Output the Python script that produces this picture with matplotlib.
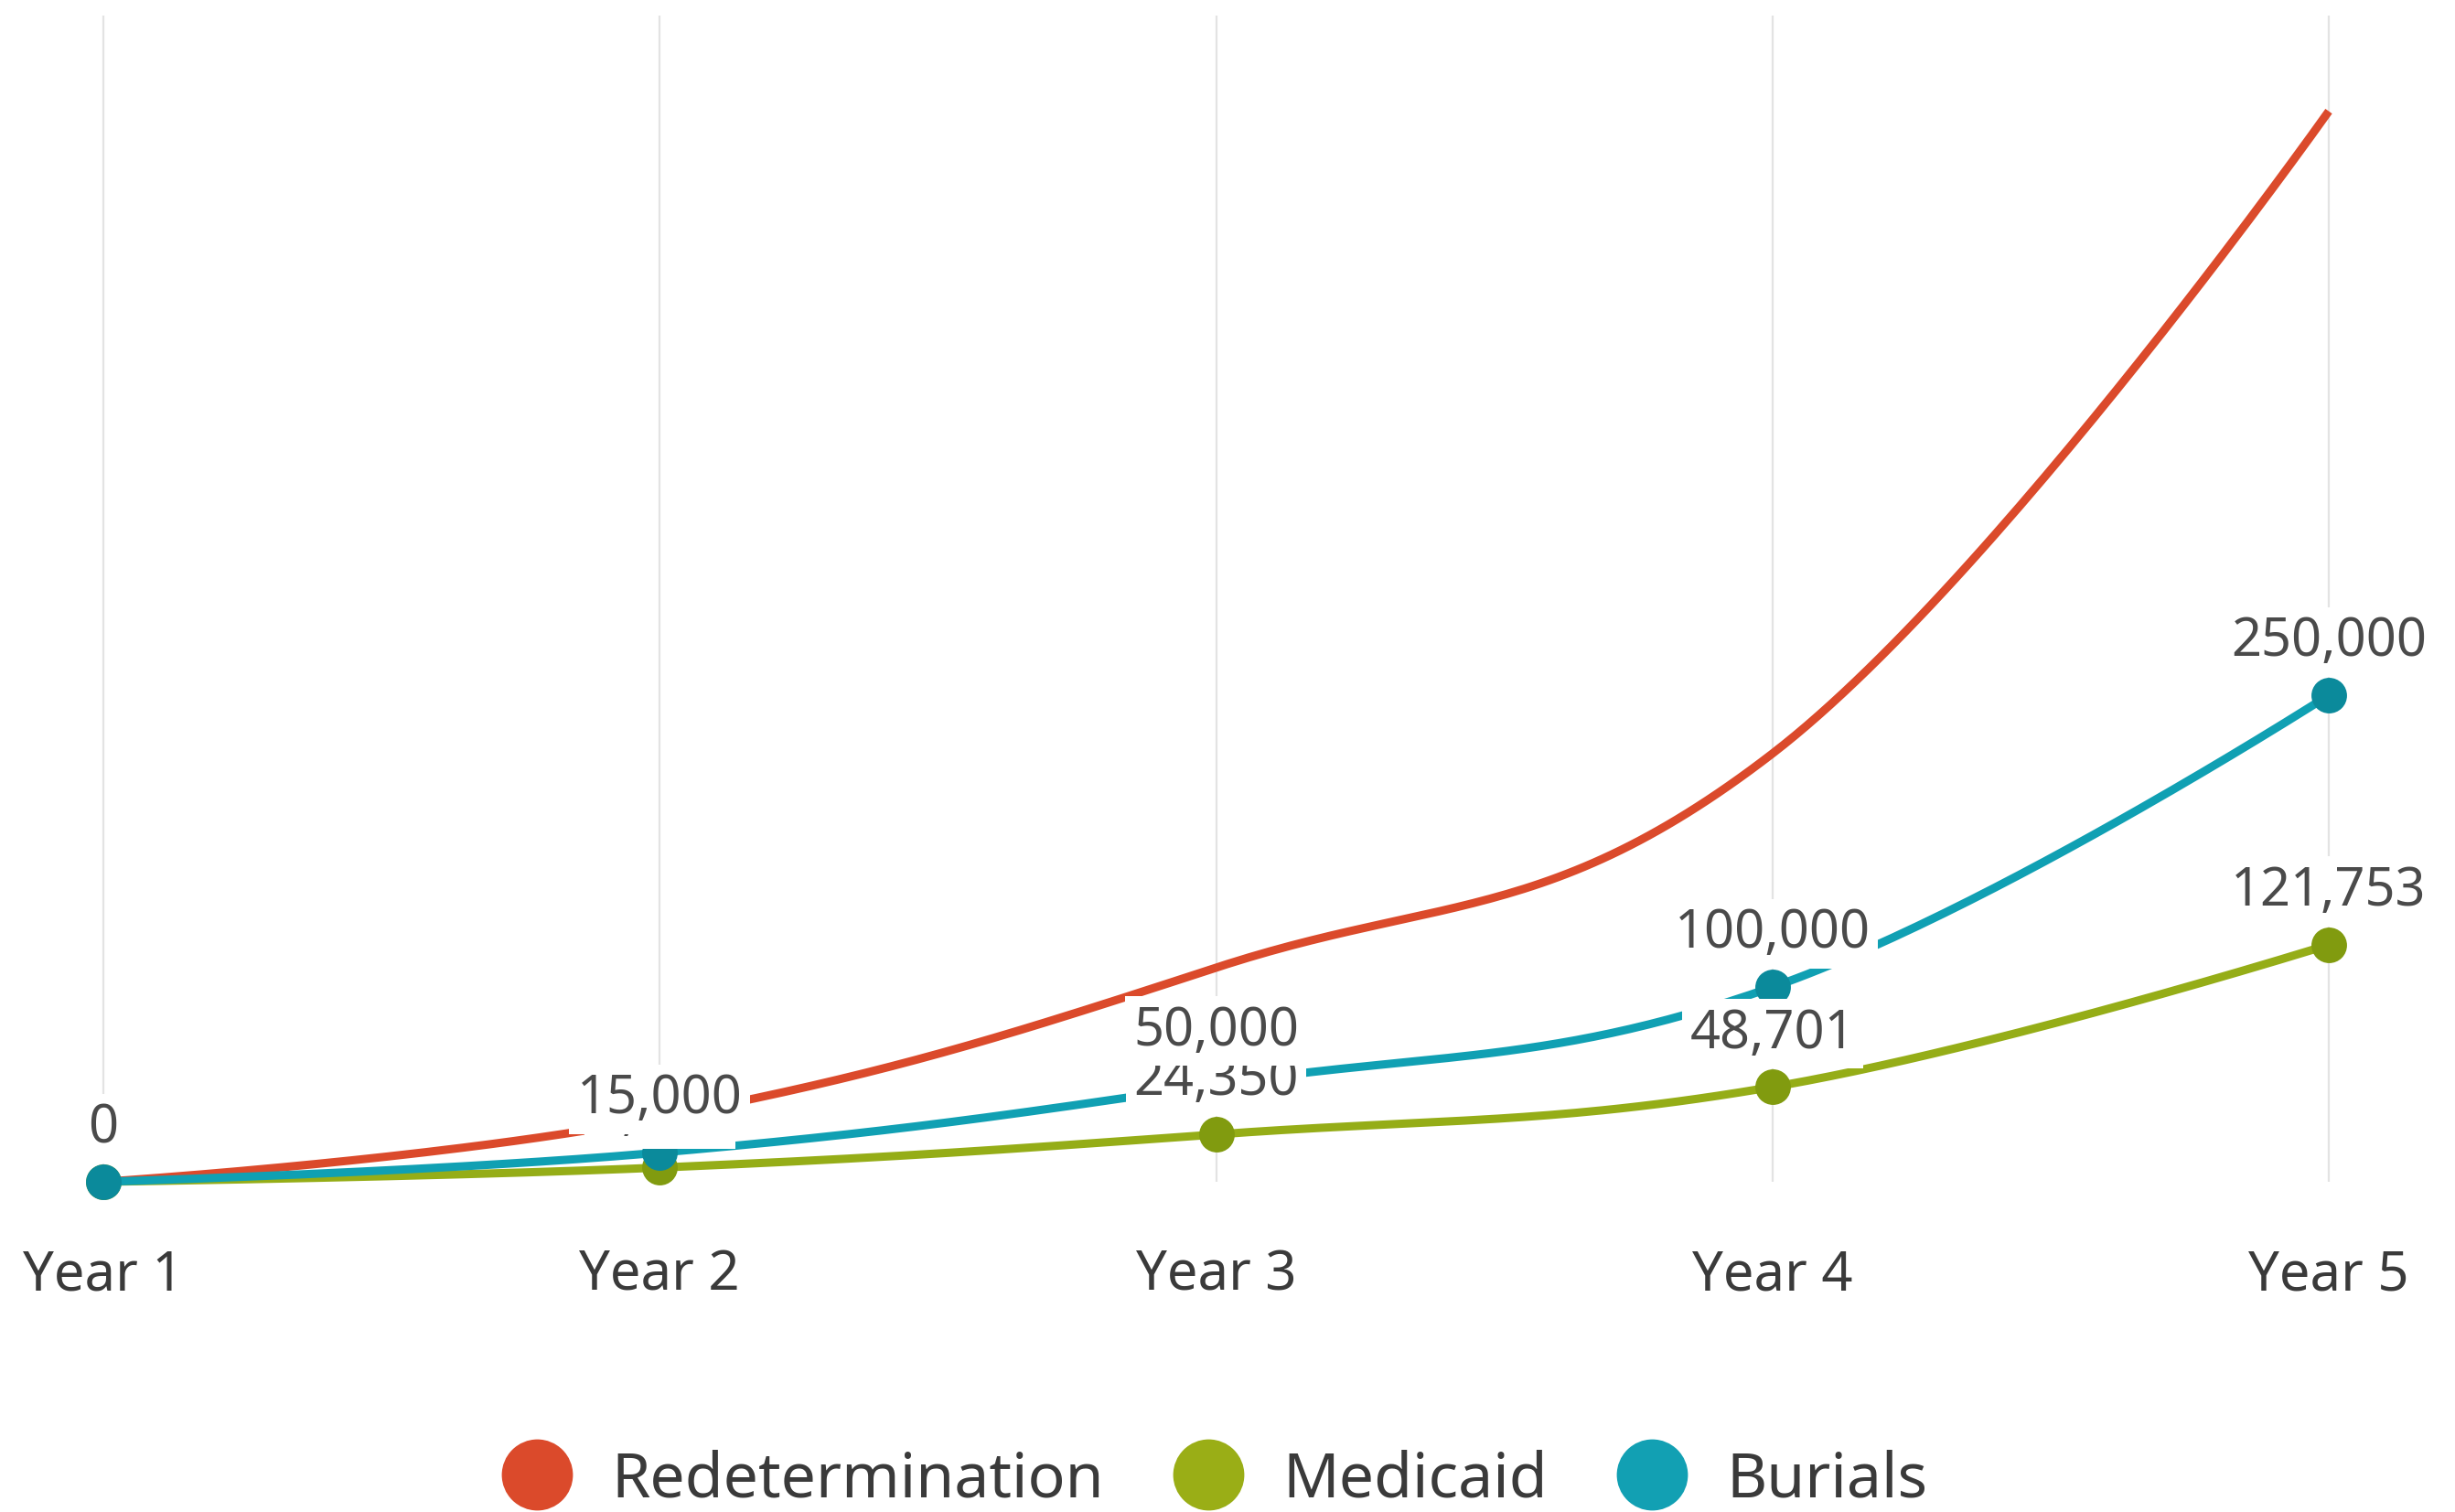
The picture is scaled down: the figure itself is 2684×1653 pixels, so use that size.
import numpy as np
import matplotlib
matplotlib.use("Agg")
import matplotlib.pyplot as plt
from matplotlib.lines import Line2D

plt.rcParams['font.family'] = ['Noto Sans', 'DejaVu Sans']

categories = ["Year 1", "Year 2", "Year 3", "Year 4", "Year 5"]
redetermination = [0, 33000, 110000, 220000, 550000]
medicaid = [0, 7305, 24350, 48701, 121753]
burials = [0, 15000, 50000, 100000, 250000]
series_names = ["Redetermination", "Medicaid", "Burials"]

RED = "#DB4A2B"
GREEN_LINE = "#95AD17"
GREEN_MARK = "#819B0F"
CYAN_LINE = "#10A0B3"
CYAN_MARK = "#0B8A9B"
TEXT = "#3a3a3a"
LABEL = "#4a4a4a"


def hc_spline(xs, ys, smoothing=1.5, nseg=60):
    n = len(xs)
    denom = smoothing + 1
    left = [None] * n
    right = [None] * n
    for i in range(1, n - 1):
        px, py = xs[i], ys[i]
        lx, ly = xs[i - 1], ys[i - 1]
        nx, ny = xs[i + 1], ys[i + 1]
        lcx = (smoothing * px + lx) / denom
        lcy = (smoothing * py + ly) / denom
        rcx = (smoothing * px + nx) / denom
        rcy = (smoothing * py + ny) / denom
        corr = 0.0
        if rcx != lcx:
            corr = ((rcy - lcy) * (rcx - px)) / (rcx - lcx) + py - rcy
        lcy += corr
        rcy += corr
        if lcy > ly and lcy > py:
            lcy = max(ly, py); rcy = 2 * py - lcy
        elif lcy < ly and lcy < py:
            lcy = min(ly, py); rcy = 2 * py - lcy
        if rcy > ny and rcy > py:
            rcy = max(ny, py); lcy = 2 * py - rcy
        elif rcy < ny and rcy < py:
            rcy = min(ny, py); lcy = 2 * py - rcy
        left[i] = (lcx, lcy)
        right[i] = (rcx, rcy)
    outx, outy = [xs[0]], [ys[0]]
    t = np.linspace(0, 1, nseg)[1:]
    for i in range(1, n):
        p0 = np.array([xs[i - 1], ys[i - 1]], float)
        p3 = np.array([xs[i], ys[i]], float)
        p1 = np.array(right[i - 1]) if right[i - 1] is not None else p0
        p2 = np.array(left[i]) if left[i] is not None else p3
        for tt in t:
            b = ((1 - tt) ** 3) * p0 + 3 * ((1 - tt) ** 2) * tt * p1 + 3 * (1 - tt) * tt ** 2 * p2 + tt ** 3 * p3
            outx.append(b[0]); outy.append(b[1])
    return np.array(outx), np.array(outy)


W, H = 2684, 1653
fig = plt.figure(figsize=(W / 100, H / 100), dpi=100)
fig.patch.set_facecolor("white")

x0_px, x4_px = 113, 2546
zero_px, top_px = 1292, 17
unit = (x4_px - x0_px) / 4
ax = fig.add_axes([0, (H - zero_px) / H, 1, (zero_px - top_px) / H])
ax.set_xlim(-x0_px / unit, 4 + (W - x4_px) / unit)
px_per_100k = 212.8
ax.set_ylim(0, (zero_px - top_px) / px_per_100k * 100000)

for s in ax.spines.values():
    s.set_visible(False)
ax.set_yticks([])
xs = np.arange(len(categories))
ax.set_xticks(xs)
ax.set_xticklabels(categories, fontsize=43, color=TEXT)
ax.tick_params(axis='x', length=0, pad=52)
ax.grid(axis='x', color="#e3e3e3", linewidth=1.6, zorder=0.5)
ax.set_axisbelow(True)

# Lines
rx, ry = hc_spline(xs, redetermination)
ax.plot(rx, ry, color=RED, lw=6.5, zorder=2, clip_on=False, solid_capstyle='butt')

mx, my = hc_spline(xs, medicaid)
ax.plot(mx, my, color=GREEN_LINE, lw=6.5, zorder=3, clip_on=False)
ax.plot(xs, medicaid, linestyle='none', marker='o', ms=28, color=GREEN_MARK,
        markeredgewidth=0, zorder=3.1, clip_on=False)

bx, by = hc_spline(xs, burials)
ax.plot(bx, by, color=CYAN_LINE, lw=6.5, zorder=4, clip_on=False)
ax.plot(xs, burials, linestyle='none', marker='o', ms=28, color=CYAN_MARK,
        markeredgewidth=0, zorder=4.1, clip_on=False)

# Data labels
for vals, z in ((medicaid, 5), (burials, 6)):
    for xi, v in zip(xs, vals):
        ax.annotate(f"{v:,}", (xi, v), xytext=(0, 42), textcoords='offset points',
                    ha='center', va='center', fontsize=41.5, color=LABEL, zorder=z,
                    annotation_clip=False,
                    bbox=dict(boxstyle='square,pad=0.15', fc='white', ec='none'))

# Legend
handles = [Line2D([], [], linestyle='none', marker='o', ms=56, color=c, markeredgewidth=0)
           for c in (RED, "#9AAE16", "#12A0B3")]
leg = fig.legend(handles, series_names, loc='center', bbox_to_anchor=(0.4948, 0.021),
                 ncol=3, frameon=False, fontsize=49, handlelength=1.15,
                 handletextpad=0.62, columnspacing=1.1, labelcolor=TEXT,
                 borderaxespad=0, borderpad=0)

fig.savefig("out.png", dpi=100, facecolor="white")
